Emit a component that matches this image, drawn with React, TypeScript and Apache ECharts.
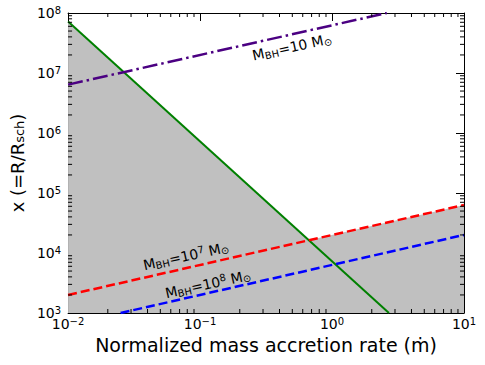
import React, { useEffect, useRef } from "react";
import * as echarts from "echarts";

// Values (log-log)
const greenLine: [number, number][] = [[0.01, 7.2e7], [2.7, 1e3]];
const purpleLine: [number, number][] = [[0.01, 6.4e6], [2.6, 1e8]];
const redLine: [number, number][] = [[0.01, 2.0e3], [10, 6.3e4]];
const blueLine: [number, number][] = [[0.025, 1e3], [10, 2.0e4]];
// upper boundary of the shaded region (below the green line, then below the red line)
const shadeTop: [number, number][] = [[0.01, 7.2e7], [0.665, 1.63e4], [10, 6.3e4]];

const xDecades = [0.01, 0.1, 1];
const yDecades = [1e3, 1e4, 1e5, 1e6, 1e7];
const minorMultipliers = [2, 3, 4, 5, 6, 7, 8, 9];

const X_MIN = 0.01, X_MAX = 10, Y_MIN = 1e3, Y_MAX = 1e8;
const FONT = "DejaVu Sans";

const xMinor: number[][] = [];
xDecades.forEach((d) => minorMultipliers.forEach((m) => xMinor.push([m * d, Y_MIN])));
const yMinor: number[][] = [];
yDecades.forEach((d) => minorMultipliers.forEach((m) => yMinor.push([X_MIN, m * d])));

function expLabel(v: number) {
  const e = Math.round(Math.log10(v));
  const s = e < 0 ? "\u2212" + -e : String(e);
  return `{b|10}{s|${s}}`;
}

const tickRich = {
  b: { fontSize: 14, fontFamily: FONT, color: "#000", lineHeight: 16 },
  s: { fontSize: 10, fontFamily: FONT, color: "#000", verticalAlign: "top", lineHeight: 10 },
};

const annRich = {
  m: { fontSize: 14, fontFamily: FONT, color: "#000", lineHeight: 16 },
  sub: { fontSize: 10, fontFamily: FONT, color: "#000", verticalAlign: "bottom", lineHeight: 10 },
  sup: { fontSize: 10, fontFamily: FONT, color: "#000", verticalAlign: "top", lineHeight: 10 },
};

export default function App() {
  const ref = useRef<HTMLDivElement>(null);
  useEffect(() => {
    document.body.style.margin = "0";
    const chart = echarts.init(ref.current!, null, { renderer: "svg" });
    const baseAxis = {
      type: "log" as const,
      logBase: 10,
      splitLine: { show: false },
      axisLine: { show: true, onZero: false, lineStyle: { color: "#000", width: 1 } },
      axisTick: { show: true, inside: true, length: 8, lineStyle: { color: "#000", width: 1 } },
    };
    const rot = (12.5 * Math.PI) / 180;
    const tickSeries = (data: number[][], isX: boolean) => ({
      type: "custom",
      silent: true,
      clip: false,
      data,
      z: 10,
      renderItem: (params: any, api: any) => {
        const v = isX ? api.value(0) : api.value(1);
        const a = isX ? api.coord([v, Y_MIN]) : api.coord([X_MIN, v]);
        const b = isX ? api.coord([v, Y_MAX]) : api.coord([X_MAX, v]);
        const st = { stroke: "#000", lineWidth: 1 };
        return {
          type: "group",
          children: isX
            ? [
                { type: "line", shape: { x1: a[0], y1: a[1], x2: a[0], y2: a[1] - 4 }, style: st },
                { type: "line", shape: { x1: b[0], y1: b[1], x2: b[0], y2: b[1] + 4 }, style: st },
              ]
            : [
                { type: "line", shape: { x1: a[0], y1: a[1], x2: a[0] + 4, y2: a[1] }, style: st },
                { type: "line", shape: { x1: b[0], y1: b[1], x2: b[0] - 4, y2: b[1] }, style: st },
              ],
        };
      },
    });
    chart.setOption({
      animation: false,
      backgroundColor: "#fff",
      grid: { left: 60, top: 13, width: 404, height: 300, containLabel: false },
      xAxis: [
        {
          ...baseAxis,
          min: X_MIN,
          max: X_MAX,
          position: "bottom",
          axisLabel: { margin: 3, formatter: expLabel, rich: tickRich },
          name: "Normalized mass accretion rate (m\u0307)",
          nameLocation: "middle",
          nameGap: 22,
          nameTextStyle: { fontSize: 19, fontFamily: FONT, color: "#000" },
        },
        { ...baseAxis, min: X_MIN, max: X_MAX, position: "top", axisLabel: { show: false } },
      ],
      yAxis: [
        {
          ...baseAxis,
          min: Y_MIN,
          max: Y_MAX,
          position: "left",
          axisLabel: { margin: 7, formatter: expLabel, rich: tickRich },
          name: "x (=R/R{sub|sch})",
          nameLocation: "middle",
          nameGap: 40,
          nameRotate: 90,
          nameTextStyle: {
            fontSize: 18,
            fontFamily: FONT,
            color: "#000",
            rich: {
              sub: { fontSize: 13, fontFamily: FONT, color: "#000", verticalAlign: "bottom" },
            },
          },
        },
        { ...baseAxis, min: Y_MIN, max: Y_MAX, position: "right", axisLabel: { show: false } },
      ],
      series: [
        {
          type: "line",
          data: shadeTop,
          showSymbol: false,
          silent: true,
          lineStyle: { width: 0, opacity: 0 },
          areaStyle: { color: "#c0c0c0", opacity: 1, origin: "start" },
          z: 1,
        },
        {
          type: "line",
          data: greenLine,
          showSymbol: false,
          lineStyle: { color: "#008000", width: 2 },
          z: 3,
        },
        {
          type: "line",
          data: purpleLine,
          showSymbol: false,
          lineStyle: { color: "#4b0082", width: 2.5, type: [15, 4, 2.5, 4] },
          z: 3,
        },
        {
          type: "line",
          data: redLine,
          showSymbol: false,
          lineStyle: { color: "#ff0000", width: 2.5, type: [9, 4] },
          z: 3,
        },
        {
          type: "line",
          data: blueLine,
          showSymbol: false,
          lineStyle: { color: "#0000ff", width: 2.5, type: [9, 4] },
          z: 3,
        },
        tickSeries(xMinor, true),
        tickSeries(yMinor, false),
      ],
      graphic: [
        {
          type: "text",
          x: 292,
          y: 47,
          rotation: rot,
          z: 20,
          style: {
            text: "{m|M}{sub|BH}{m|=10 M}{sub|\u2299}",
            rich: annRich,
            align: "center",
            verticalAlign: "middle",
          },
        },
        {
          type: "text",
          x: 186,
          y: 256,
          rotation: rot,
          z: 20,
          style: {
            text: "{m|M}{sub|BH}{m|=10}{sup|7}{m| M}{sub|\u2299}",
            rich: annRich,
            align: "center",
            verticalAlign: "middle",
          },
        },
        {
          type: "text",
          x: 208,
          y: 284,
          rotation: rot,
          z: 20,
          style: {
            text: "{m|M}{sub|BH}{m|=10}{sup|8}{m| M}{sub|\u2299}",
            rich: annRich,
            align: "center",
            verticalAlign: "middle",
          },
        },
      ],
    });
    return () => chart.dispose();
  }, []);
  return <div ref={ref} style={{ width: 485, height: 365 }} />;
}
